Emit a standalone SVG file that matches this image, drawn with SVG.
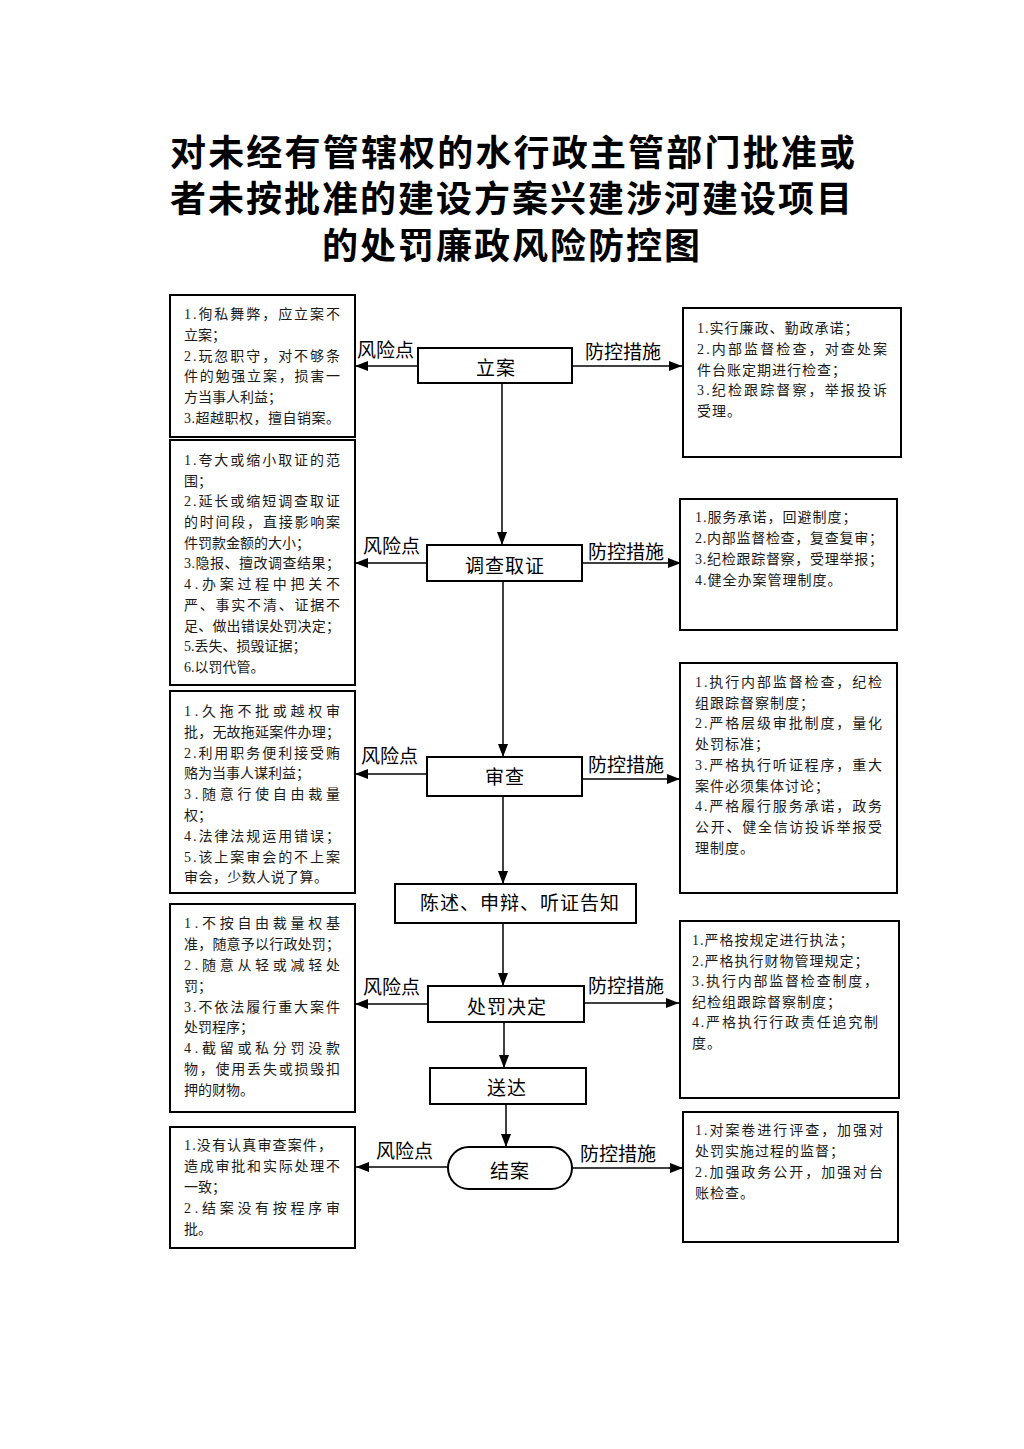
<svg xmlns="http://www.w3.org/2000/svg" width="1024" height="1449" viewBox="0 0 1024 1449">
<style>
.bg{fill:#fff}
.title{font-family:"Noto Sans CJK SC","Noto Sans",sans-serif;font-size:36px;font-weight:bold;fill:#000}
.t{font-family:"Liberation Serif","Noto Sans CJK SC",serif;font-size:14px;fill:#1a1a1a}
.r{letter-spacing:1px}
.lbl{font-family:"Liberation Serif","Noto Sans CJK SC",serif;font-size:19px;fill:#000}
.nl{text-anchor:middle;letter-spacing:1px}
.box{fill:#fff;stroke:#000;stroke-width:2}
.node{fill:#fff;stroke:#000;stroke-width:2}
.conn line{stroke:#000;stroke-width:1.5;marker-end:url(#ah)}
</style>
<defs>
<marker id="ah" markerUnits="userSpaceOnUse" markerWidth="13" markerHeight="10" refX="13" refY="5" orient="auto">
<path d="M0,0 L13,5 L0,10 z" fill="#000"/>
</marker>
</defs>
<rect class="bg" x="0" y="0" width="1024" height="1449"/>

<g id="title">
<text class="title" x="170" y="166" textLength="685" lengthAdjust="spacing">对未经有管辖权的水行政主管部门批准或</text>
<text class="title" x="170" y="212" textLength="682" lengthAdjust="spacing">者未按批准的建设方案兴建涉河建设项目</text>
<text class="title" x="322" y="259" textLength="378" lengthAdjust="spacing">的处罚廉政风险防控图</text>
</g>

<g id="connectors" class="conn">
<line x1="502" y1="383" x2="502" y2="545"/>
<line x1="503" y1="581" x2="503" y2="757"/>
<line x1="503" y1="796" x2="503" y2="884"/>
<line x1="503" y1="923" x2="503" y2="986"/>
<line x1="504" y1="1022" x2="504" y2="1068"/>
<line x1="506" y1="1104" x2="506" y2="1147"/>
<line x1="418" y1="366" x2="355" y2="366"/>
<line x1="572" y1="366" x2="682" y2="366"/>
<line x1="427" y1="563" x2="355" y2="563"/>
<line x1="582" y1="563" x2="681" y2="563"/>
<line x1="427" y1="774" x2="355" y2="774"/>
<line x1="582" y1="779" x2="680" y2="779"/>
<line x1="428" y1="1004" x2="355" y2="1004"/>
<line x1="584" y1="1003" x2="679" y2="1003"/>
<line x1="448" y1="1167" x2="356" y2="1167"/>
<line x1="572" y1="1168" x2="683" y2="1168"/>
</g>

<g id="edge-labels">
<text class="lbl" x="357" y="357">风险点</text>
<text class="lbl" x="585" y="359">防控措施</text>
<text class="lbl" x="363" y="553">风险点</text>
<text class="lbl" x="588" y="559">防控措施</text>
<text class="lbl" x="361" y="763">风险点</text>
<text class="lbl" x="588" y="772">防控措施</text>
<text class="lbl" x="363" y="994">风险点</text>
<text class="lbl" x="588" y="993">防控措施</text>
<text class="lbl" x="376" y="1158">风险点</text>
<text class="lbl" x="580" y="1161">防控措施</text>
</g>

<g id="node-lian">
<rect class="node" x="418" y="348" width="154" height="35"/>
<text class="lbl nl" x="496" y="375">立案</text>
</g>
<g id="node-diaocha">
<rect class="node" x="427" y="545" width="155" height="36"/>
<text class="lbl nl" x="505" y="573">调查取证</text>
</g>
<g id="node-shencha">
<rect class="node" x="427" y="757" width="155" height="39"/>
<text class="lbl nl" x="505" y="784">审查</text>
</g>
<g id="node-chenshu">
<rect class="node" x="395" y="884" width="241" height="39"/>
<text class="lbl nl" x="520" y="910">陈述、申辩、听证告知</text>
</g>
<g id="node-chufa">
<rect class="node" x="428" y="986" width="156" height="36"/>
<text class="lbl nl" x="507" y="1014">处罚决定</text>
</g>
<g id="node-songda">
<rect class="node" x="430" y="1068" width="156" height="36"/>
<text class="lbl nl" x="507" y="1095">送达</text>
</g>
<g id="node-jiean">
<rect class="node" x="448" y="1147" width="124" height="42" rx="21" ry="21"/>
<text class="lbl nl" x="510" y="1178">结案</text>
</g>

<g id="risk-1">
<rect class="box" x="170" y="295" width="185" height="142"/>
<text class="t" x="184" y="319" textLength="156" lengthAdjust="spacing">1.徇私舞弊，应立案不</text>
<text class="t" x="184" y="340">立案；</text>
<text class="t" x="184" y="361" textLength="156" lengthAdjust="spacing">2.玩忽职守，对不够条</text>
<text class="t" x="184" y="381" textLength="156" lengthAdjust="spacing">件的勉强立案，损害一</text>
<text class="t" x="184" y="402">方当事人利益；</text>
<text class="t" x="184" y="423" textLength="156" lengthAdjust="spacing">3.超越职权，擅自销案。</text>
</g>
<g id="measure-1">
<rect class="box" x="683" y="308" width="218" height="149"/>
<text class="t r" x="697" y="333">1.实行廉政、勤政承诺；</text>
<text class="t" x="697" y="354" textLength="190" lengthAdjust="spacing">2.内部监督检查，对查处案</text>
<text class="t r" x="697" y="375">件台账定期进行检查；</text>
<text class="t" x="697" y="395" textLength="190" lengthAdjust="spacing">3.纪检跟踪督察，举报投诉</text>
<text class="t r" x="697" y="416">受理。</text>
</g>

<g id="risk-2">
<rect class="box" x="170" y="440" width="185" height="245"/>
<text class="t" x="184" y="465" textLength="156" lengthAdjust="spacing">1.夸大或缩小取证的范</text>
<text class="t" x="184" y="486">围；</text>
<text class="t" x="184" y="506" textLength="156" lengthAdjust="spacing">2.延长或缩短调查取证</text>
<text class="t" x="184" y="527" textLength="156" lengthAdjust="spacing">的时间段，直接影响案</text>
<text class="t" x="184" y="548">件罚款金额的大小；</text>
<text class="t" x="184" y="568" textLength="156" lengthAdjust="spacing">3.隐报、擅改调查结果；</text>
<text class="t" x="184" y="589" textLength="156" lengthAdjust="spacing">4.办案过程中把关不</text>
<text class="t" x="184" y="610" textLength="156" lengthAdjust="spacing">严、事实不清、证据不</text>
<text class="t" x="184" y="631" textLength="156" lengthAdjust="spacing">足、做出错误处罚决定；</text>
<text class="t" x="184" y="651">5.丢失、损毁证据；</text>
<text class="t" x="184" y="672">6.以罚代管。</text>
</g>
<g id="measure-2">
<rect class="box" x="680" y="499" width="217" height="131"/>
<text class="t r" x="695" y="522">1.服务承诺，回避制度；</text>
<text class="t" x="695" y="543" textLength="188" lengthAdjust="spacing">2.内部监督检查，复查复审；</text>
<text class="t" x="695" y="564" textLength="188" lengthAdjust="spacing">3.纪检跟踪督察，受理举报；</text>
<text class="t r" x="695" y="585">4.健全办案管理制度。</text>
</g>

<g id="risk-3">
<rect class="box" x="170" y="691" width="185" height="202"/>
<text class="t" x="184" y="716" textLength="156" lengthAdjust="spacing">1.久拖不批或越权审</text>
<text class="t" x="184" y="737" textLength="156" lengthAdjust="spacing">批，无故拖延案件办理；</text>
<text class="t" x="184" y="758" textLength="156" lengthAdjust="spacing">2.利用职务便利接受贿</text>
<text class="t" x="184" y="778">赂为当事人谋利益；</text>
<text class="t" x="184" y="799" textLength="156" lengthAdjust="spacing">3.随意行使自由裁量</text>
<text class="t" x="184" y="820">权；</text>
<text class="t" x="184" y="841" textLength="156" lengthAdjust="spacing">4.法律法规运用错误；</text>
<text class="t" x="184" y="862" textLength="156" lengthAdjust="spacing">5.该上案审会的不上案</text>
<text class="t" x="184" y="882" textLength="144" lengthAdjust="spacing">审会，少数人说了算。</text>
</g>
<g id="measure-3">
<rect class="box" x="680" y="663" width="217" height="230"/>
<text class="t" x="695" y="687" textLength="187" lengthAdjust="spacing">1.执行内部监督检查，纪检</text>
<text class="t r" x="695" y="708">组跟踪督察制度；</text>
<text class="t" x="695" y="728" textLength="187" lengthAdjust="spacing">2.严格层级审批制度，量化</text>
<text class="t r" x="695" y="749">处罚标准；</text>
<text class="t" x="695" y="770" textLength="187" lengthAdjust="spacing">3.严格执行听证程序，重大</text>
<text class="t r" x="695" y="791">案件必须集体讨论；</text>
<text class="t" x="695" y="811" textLength="187" lengthAdjust="spacing">4.严格履行服务承诺，政务</text>
<text class="t" x="695" y="832" textLength="187" lengthAdjust="spacing">公开、健全信访投诉举报受</text>
<text class="t r" x="695" y="853">理制度。</text>
</g>

<g id="risk-4">
<rect class="box" x="170" y="904" width="185" height="208"/>
<text class="t" x="184" y="928" textLength="156" lengthAdjust="spacing">1.不按自由裁量权基</text>
<text class="t" x="184" y="949" textLength="156" lengthAdjust="spacing">准，随意予以行政处罚；</text>
<text class="t" x="184" y="970" textLength="156" lengthAdjust="spacing">2.随意从轻或减轻处</text>
<text class="t" x="184" y="991">罚；</text>
<text class="t" x="184" y="1012" textLength="156" lengthAdjust="spacing">3.不依法履行重大案件</text>
<text class="t" x="184" y="1032">处罚程序；</text>
<text class="t" x="184" y="1053" textLength="156" lengthAdjust="spacing">4.截留或私分罚没款</text>
<text class="t" x="184" y="1074" textLength="156" lengthAdjust="spacing">物，使用丢失或损毁扣</text>
<text class="t" x="184" y="1095">押的财物。</text>
</g>
<g id="measure-4">
<rect class="box" x="680" y="921" width="219" height="177"/>
<text class="t r" x="692" y="945">1.严格按规定进行执法；</text>
<text class="t r" x="692" y="966">2.严格执行财物管理规定；</text>
<text class="t" x="692" y="986" textLength="186" lengthAdjust="spacing">3.执行内部监督检查制度，</text>
<text class="t r" x="692" y="1007">纪检组跟踪督察制度；</text>
<text class="t" x="692" y="1027" textLength="186" lengthAdjust="spacing">4.严格执行行政责任追究制</text>
<text class="t r" x="692" y="1048">度。</text>
</g>

<g id="risk-5">
<rect class="box" x="170" y="1127" width="185" height="121"/>
<text class="t" x="184" y="1150" textLength="148" lengthAdjust="spacing">1.没有认真审查案件，</text>
<text class="t" x="184" y="1171" textLength="156" lengthAdjust="spacing">造成审批和实际处理不</text>
<text class="t" x="184" y="1192">一致；</text>
<text class="t" x="184" y="1213" textLength="156" lengthAdjust="spacing">2.结案没有按程序审</text>
<text class="t" x="184" y="1234">批。</text>
</g>
<g id="measure-5">
<rect class="box" x="683" y="1112" width="215" height="130"/>
<text class="t" x="695" y="1135" textLength="188" lengthAdjust="spacing">1.对案卷进行评查，加强对</text>
<text class="t r" x="695" y="1156">处罚实施过程的监督；</text>
<text class="t" x="695" y="1177" textLength="188" lengthAdjust="spacing">2.加强政务公开，加强对台</text>
<text class="t r" x="695" y="1198">账检查。</text>
</g>
</svg>
